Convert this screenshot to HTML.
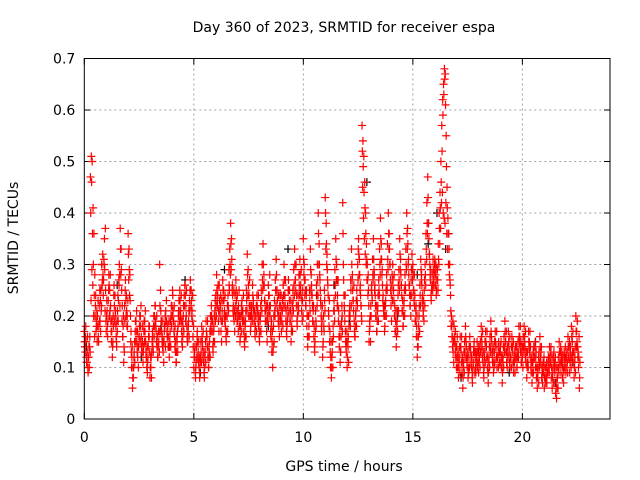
<!DOCTYPE html>
<html><head><meta charset="utf-8"><style>
html,body{margin:0;padding:0;background:#fff}
svg{display:block;font-family:"DejaVu Sans","Liberation Sans",sans-serif}
</style></head><body>
<svg id="chart" width="640" height="480" viewBox="0 0 640 480">
<text x="344" y="32" text-anchor="middle" font-size="14">Day 360 of 2023, SRMTID for receiver espa</text>
<text x="344" y="471" text-anchor="middle" font-size="14">GPS time / hours</text>
<text transform="translate(18,238) rotate(-90)" text-anchor="middle" font-size="14">SRMTID / TECUs</text>
<g id="grid"></g>
<g id="ticks"></g>
<g id="black"></g>
<g id="red"></g>
<rect x="84.3" y="58.5" width="525.7" height="360.5" fill="none" stroke="#000" stroke-width="1"/>
</svg>
<script>
const xTicks=[0,5,10,15,20];
const yTicks=[0,0.1,0.2,0.3,0.4,0.5,0.6,0.7];
const yTickLabels=["0","0.1","0.2","0.3","0.4","0.5","0.6","0.7"];
const redStep=0.04;
const redStarts=[0,0.013,0.027];
const redValues=[
0.17,0.13,0.15,0.11,0.10,0.12,0.14,0.47,0.51,0.50,0.41,0.36,0.28,0.24,0.18,0.20,0.16,0.22,0.19,0.25,0.30,0.32,0.27,0.35,0.37,
0.17,0.21,0.19,0.28,0.25,0.22,0.15,0.12,0.20,0.26,0.24,0.18,0.14,0.21,0.23,0.30,0.37,0.33,0.19,0.16,0.11,0.22,0.27,0.24,0.20,
0.36,0.33,0.28,0.15,0.10,0.06,0.08,0.13,0.17,0.19,0.15,0.12,0.14,0.18,0.20,0.16,0.13,0.11,0.17,0.19,0.15,0.12,0.09,0.14,0.16,
0.08,0.10,0.13,0.16,0.18,0.20,0.22,0.17,0.14,0.12,0.15,0.30,0.25,0.19,0.16,0.13,0.15,0.18,0.21,0.19,0.16,0.14,0.12,0.17,0.20,
0.22,0.24,0.19,0.16,0.13,0.11,0.15,0.18,0.23,0.25,0.21,0.17,0.14,0.20,0.24,0.26,0.22,0.18,0.15,0.19,0.23,0.27,0.25,0.21,0.16,
0.10,0.12,0.08,0.14,0.17,0.13,0.10,0.09,0.15,0.18,0.14,0.11,0.08,0.13,0.19,0.16,0.12,0.10,0.15,0.20,0.22,0.17,0.13,0.18,0.21,
0.24,0.28,0.22,0.19,0.26,0.20,0.17,0.23,0.27,0.25,0.21,0.18,0.15,0.20,0.24,0.29,0.33,0.38,0.35,0.26,0.22,0.19,0.24,0.27,0.21,
0.19,0.22,0.18,0.16,0.20,0.23,0.21,0.17,0.14,0.19,0.25,0.32,0.29,0.24,0.20,0.18,0.22,0.26,0.23,0.19,0.16,0.20,0.24,0.21,0.18,
0.15,0.20,0.25,0.30,0.34,0.28,0.23,0.19,0.17,0.22,0.26,0.24,0.20,0.16,0.13,0.10,0.18,0.23,0.27,0.31,0.25,0.21,0.18,0.22,0.20,
0.17,0.21,0.26,0.30,0.24,0.19,0.16,0.22,0.27,0.23,0.19,0.15,0.20,0.25,0.29,0.33,0.27,0.22,0.18,0.24,0.28,0.31,0.26,0.21,0.23,
0.35,0.30,0.27,0.22,0.18,0.14,0.20,0.25,0.33,0.28,0.24,0.19,0.16,0.13,0.21,0.26,0.30,0.40,0.34,0.27,0.22,0.17,0.12,0.20,0.25,
0.43,0.38,0.32,0.26,0.20,0.15,0.10,0.08,0.13,0.18,0.23,0.29,0.35,0.30,0.24,0.19,0.14,0.11,0.16,0.22,0.42,0.27,0.21,0.17,0.13,
0.10,0.14,0.18,0.22,0.27,0.33,0.28,0.23,0.19,0.16,0.21,0.25,0.30,0.35,0.31,0.26,0.22,0.57,0.54,0.51,0.46,0.40,0.34,0.30,0.28,
0.15,0.18,0.22,0.26,0.31,0.35,0.28,0.24,0.20,0.17,0.22,0.27,0.33,0.39,0.34,0.29,0.24,0.20,0.18,0.23,0.28,0.34,0.40,0.36,0.30,
0.22,0.26,0.30,0.25,0.20,0.17,0.14,0.19,0.24,0.29,0.35,0.31,0.26,0.21,0.18,0.23,0.28,0.33,0.40,0.37,0.31,0.26,0.22,0.27,0.32,
0.30,0.25,0.22,0.19,0.16,0.12,0.14,0.20,0.26,0.31,0.28,0.24,0.21,0.25,0.30,0.36,0.42,0.47,0.38,0.32,0.27,0.23,0.28,0.31,0.26,
0.31,0.28,0.25,0.29,0.34,0.40,0.44,0.50,0.57,0.62,0.65,0.68,0.67,0.55,0.45,0.39,0.36,0.30,0.24,0.20,0.16,0.13,0.18,0.15,0.12,
0.14,0.10,0.08,0.12,0.16,0.13,0.09,0.06,0.11,0.15,0.18,0.14,0.10,0.08,0.12,0.16,0.13,0.10,0.07,0.11,0.15,0.12,0.09,0.13,0.11,
0.09,0.12,0.15,0.18,0.14,0.11,0.08,0.13,0.17,0.14,0.10,0.07,0.12,0.16,0.19,0.15,0.11,0.09,0.13,0.17,0.14,0.10,0.12,0.15,0.11,
0.13,0.10,0.07,0.12,0.16,0.19,0.15,0.11,0.14,0.17,0.13,0.10,0.12,0.16,0.13,0.09,0.11,0.14,0.12,0.10,0.15,0.18,0.16,0.13,0.11,
0.12,0.16,0.18,0.14,0.11,0.08,0.13,0.17,0.15,0.12,0.09,0.07,0.11,0.14,0.12,0.10,0.08,0.06,0.10,0.13,0.16,0.11,0.08,0.07,0.09,
0.06,0.08,0.10,0.07,0.09,0.12,0.14,0.11,0.08,0.06,0.10,0.13,0.09,0.05,0.04,0.08,0.12,0.15,0.11,0.09,0.13,0.10,0.07,0.12,0.14,
0.10,0.13,0.16,0.12,0.09,0.14,0.18,0.15,0.11,0.08,0.12,0.20,0.17,0.14,0.10,0.06];
const redValues2=[
0.15,0.16,0.12,0.13,0.09,0.14,0.16,0.40,0.46,0.36,0.30,0.24,0.20,0.17,0.21,0.18,0.15,0.19,0.23,0.21,0.26,0.28,0.31,0.29,0.25,
0.20,0.18,0.23,0.26,0.21,0.19,0.17,0.14,0.18,0.22,0.20,0.16,0.19,0.24,0.27,0.28,0.33,0.29,0.22,0.18,0.14,0.19,0.23,0.21,0.18,
0.32,0.29,0.23,0.17,0.12,0.08,0.10,0.15,0.19,0.17,0.13,0.14,0.16,0.20,0.18,0.14,0.15,0.13,0.19,0.17,0.13,0.10,0.11,0.16,0.18,
0.10,0.12,0.15,0.14,0.20,0.18,0.19,0.15,0.16,0.14,0.17,0.22,0.21,0.17,0.14,0.15,0.17,0.20,0.19,0.17,0.18,0.16,0.14,0.19,0.22,
0.20,0.21,0.17,0.14,0.15,0.13,0.17,0.20,0.21,0.23,0.19,0.15,0.16,0.22,0.22,0.24,0.20,0.16,0.17,0.21,0.21,0.25,0.23,0.19,0.14,
0.12,0.14,0.10,0.12,0.15,0.11,0.12,0.11,0.13,0.16,0.12,0.13,0.10,0.15,0.17,0.14,0.14,0.12,0.17,0.18,0.20,0.19,0.15,0.20,0.23,
0.22,0.25,0.24,0.21,0.23,0.22,0.19,0.21,0.25,0.23,0.19,0.20,0.17,0.22,0.22,0.26,0.30,0.34,0.31,0.24,0.20,0.21,0.22,0.25,0.19,
0.21,0.20,0.20,0.18,0.22,0.21,0.19,0.19,0.16,0.21,0.23,0.28,0.26,0.22,0.22,0.20,0.20,0.24,0.21,0.21,0.18,0.22,0.22,0.19,0.20,
0.17,0.22,0.23,0.27,0.30,0.26,0.21,0.21,0.19,0.20,0.24,0.22,0.22,0.18,0.15,0.13,0.20,0.21,0.25,0.28,0.23,0.19,0.20,0.24,0.22,
0.19,0.23,0.24,0.27,0.22,0.21,0.18,0.20,0.25,0.25,0.21,0.17,0.22,0.23,0.26,0.30,0.25,0.24,0.20,0.22,0.26,0.28,0.24,0.23,0.25,
0.31,0.27,0.25,0.24,0.20,0.16,0.18,0.23,0.29,0.26,0.22,0.21,0.18,0.15,0.19,0.24,0.27,0.36,0.30,0.25,0.20,0.19,0.14,0.18,0.23,
0.40,0.34,0.29,0.24,0.18,0.17,0.12,0.10,0.15,0.16,0.21,0.26,0.31,0.27,0.22,0.21,0.16,0.13,0.18,0.20,0.36,0.24,0.19,0.15,0.15,
0.12,0.16,0.20,0.20,0.25,0.30,0.25,0.21,0.17,0.18,0.23,0.23,0.27,0.32,0.28,0.24,0.20,0.52,0.49,0.44,0.41,0.36,0.31,0.27,0.25,
0.17,0.20,0.20,0.24,0.28,0.31,0.25,0.22,0.22,0.19,0.24,0.25,0.30,0.35,0.31,0.26,0.22,0.22,0.20,0.25,0.26,0.31,0.36,0.33,0.27,
0.24,0.28,0.27,0.23,0.22,0.19,0.16,0.21,0.26,0.27,0.32,0.28,0.24,0.23,0.20,0.25,0.26,0.30,0.36,0.34,0.28,0.24,0.24,0.29,0.29,
0.28,0.23,0.24,0.21,0.18,0.14,0.16,0.22,0.24,0.29,0.26,0.22,0.23,0.27,0.28,0.33,0.38,0.43,0.35,0.30,0.29,0.25,0.26,0.29,0.28,
0.29,0.30,0.27,0.27,0.31,0.37,0.41,0.46,0.52,0.59,0.63,0.66,0.61,0.49,0.41,0.36,0.33,0.27,0.21,0.18,0.14,0.15,0.16,0.13,0.14,
0.12,0.12,0.10,0.14,0.14,0.11,0.11,0.08,0.13,0.13,0.16,0.12,0.12,0.10,0.14,0.14,0.11,0.12,0.09,0.13,0.13,0.10,0.11,0.15,0.13,
0.11,0.14,0.13,0.16,0.12,0.13,0.10,0.15,0.15,0.12,0.12,0.09,0.14,0.14,0.17,0.13,0.13,0.11,0.15,0.15,0.12,0.12,0.14,0.13,0.13,
0.11,0.12,0.09,0.14,0.14,0.17,0.13,0.13,0.12,0.15,0.11,0.12,0.14,0.14,0.11,0.11,0.13,0.12,0.14,0.12,0.13,0.16,0.14,0.15,0.13,
0.14,0.14,0.16,0.12,0.13,0.10,0.11,0.15,0.13,0.14,0.11,0.09,0.13,0.12,0.14,0.12,0.10,0.08,0.12,0.11,0.14,0.13,0.10,0.09,0.11,
0.08,0.10,0.08,0.09,0.11,0.10,0.12,0.13,0.10,0.08,0.12,0.11,0.11,0.07,0.06,0.10,0.10,0.13,0.13,0.11,0.11,0.12,0.09,0.10,0.12,
0.12,0.11,0.14,0.14,0.11,0.12,0.16,0.13,0.13,0.10,0.14,0.17,0.15,0.12,0.12,0.08];
const redValues3=[
0.14,0.18,0.11,0.16,0.12,0.10,0.13,0.23,0.29,0.26,0.20,0.16,0.22,0.19,0.15,0.23,0.18,0.25,0.17,0.22,0.27,0.24,0.30,0.21,0.19,
0.23,0.16,0.25,0.20,0.28,0.17,0.19,0.15,0.24,0.19,0.21,0.15,0.17,0.19,0.26,0.22,0.28,0.25,0.16,0.20,0.13,0.25,0.20,0.18,0.23,
0.27,0.24,0.20,0.13,0.14,0.10,0.12,0.11,0.15,0.21,0.17,0.10,0.16,0.15,0.22,0.13,0.18,0.14,0.15,0.21,0.12,0.14,0.12,0.18,0.13,
0.12,0.08,0.17,0.13,0.16,0.22,0.18,0.20,0.12,0.17,0.13,0.17,0.19,0.15,0.19,0.11,0.18,0.14,0.23,0.16,0.14,0.19,0.15,0.14,0.18,
0.25,0.19,0.22,0.18,0.11,0.16,0.13,0.21,0.19,0.20,0.24,0.19,0.18,0.17,0.26,0.19,0.25,0.15,0.18,0.16,0.25,0.22,0.20,0.24,0.18,
0.13,0.09,0.11,0.16,0.12,0.15,0.08,0.12,0.11,0.15,0.17,0.09,0.12,0.11,0.16,0.19,0.10,0.13,0.12,0.17,0.19,0.14,0.17,0.15,0.19,
0.20,0.23,0.26,0.17,0.21,0.24,0.15,0.19,0.23,0.20,0.24,0.16,0.20,0.17,0.21,0.25,0.28,0.29,0.25,0.21,0.25,0.17,0.20,0.23,0.24,
0.17,0.25,0.15,0.20,0.17,0.19,0.24,0.15,0.18,0.16,0.21,0.24,0.20,0.27,0.17,0.21,0.19,0.22,0.19,0.17,0.20,0.17,0.21,0.24,0.16,
0.19,0.17,0.21,0.25,0.26,0.23,0.19,0.22,0.15,0.19,0.21,0.28,0.17,0.19,0.17,0.14,0.15,0.20,0.22,0.25,0.21,0.24,0.16,0.19,0.24,
0.21,0.18,0.22,0.24,0.27,0.17,0.19,0.25,0.21,0.19,0.23,0.18,0.17,0.21,0.24,0.27,0.30,0.19,0.22,0.21,0.24,0.25,0.29,0.19,0.20,
0.28,0.24,0.22,0.25,0.16,0.20,0.16,0.21,0.25,0.24,0.19,0.22,0.14,0.17,0.18,0.22,0.24,0.30,0.28,0.23,0.18,0.22,0.15,0.17,0.21,
0.33,0.30,0.27,0.21,0.23,0.13,0.15,0.12,0.10,0.21,0.19,0.24,0.27,0.22,0.27,0.16,0.18,0.13,0.19,0.17,0.30,0.22,0.24,0.14,0.17,
0.15,0.11,0.21,0.18,0.22,0.27,0.23,0.26,0.16,0.20,0.18,0.22,0.33,0.28,0.25,0.22,0.19,0.45,0.39,0.35,0.32,0.30,0.27,0.24,0.22,
0.19,0.15,0.25,0.23,0.27,0.29,0.26,0.20,0.17,0.21,0.19,0.24,0.28,0.31,0.28,0.23,0.21,0.17,0.22,0.20,0.25,0.29,0.33,0.30,0.25,
0.19,0.23,0.25,0.28,0.17,0.21,0.18,0.17,0.21,0.25,0.29,0.26,0.21,0.18,0.22,0.20,0.25,0.29,0.33,0.30,0.26,0.22,0.20,0.24,0.27,
0.25,0.28,0.19,0.22,0.20,0.16,0.18,0.17,0.22,0.27,0.23,0.20,0.19,0.22,0.26,0.31,0.36,0.38,0.32,0.28,0.24,0.26,0.25,0.27,0.30,
0.26,0.24,0.29,0.25,0.30,0.34,0.37,0.42,0.44,0.40,0.39,0.38,0.42,0.36,0.33,0.30,0.28,0.26,0.18,0.16,0.19,0.11,0.15,0.17,0.10,
0.16,0.13,0.11,0.09,0.14,0.16,0.12,0.10,0.09,0.12,0.15,0.11,0.13,0.09,0.10,0.14,0.12,0.08,0.10,0.14,0.09,0.13,0.12,0.10,0.14,
0.12,0.10,0.13,0.15,0.17,0.09,0.12,0.11,0.14,0.17,0.09,0.11,0.10,0.13,0.16,0.12,0.14,0.10,0.11,0.14,0.17,0.12,0.10,0.13,0.14,
0.15,0.12,0.11,0.10,0.13,0.15,0.17,0.10,0.12,0.14,0.16,0.12,0.10,0.14,0.15,0.12,0.09,0.12,0.10,0.13,0.12,0.15,0.18,0.11,0.14,
0.10,0.13,0.15,0.17,0.13,0.11,0.10,0.14,0.17,0.10,0.12,0.11,0.09,0.12,0.15,0.13,0.10,0.09,0.07,0.10,0.12,0.14,0.09,0.11,0.12,
0.10,0.07,0.11,0.09,0.12,0.09,0.11,0.14,0.12,0.09,0.07,0.10,0.12,0.10,0.08,0.06,0.09,0.11,0.14,0.12,0.08,0.10,0.13,0.11,0.09,
0.13,0.09,0.12,0.15,0.13,0.10,0.12,0.17,0.13,0.11,0.09,0.14,0.19,0.13,0.16,0.11];
const blackTimes=[0.1,0.8,1.5,2.6,3.5,4.6,5.3,6.4,7.2,8.4,9.3,10.6,11.4,12.1,12.9,13.7,14.3,15.2,15.7,16.1,16.5,17.2,18.0,19.4,20.6,21.5,22.3];
const blackValues=[0.14,0.30,0.26,0.12,0.18,0.27,0.09,0.29,0.21,0.18,0.33,0.24,0.26,0.19,0.46,0.22,0.20,0.28,0.34,0.40,0.33,0.08,0.13,0.09,0.15,0.07,0.11];

const X0=84.3,X1=610,Y0=419,Y1=58.5,XMAX=24,YMAX=0.7;
const xs=t=>X0+(X1-X0)*t/XMAX;
const ys=v=>Y0-(Y0-Y1)*v/YMAX;
const NS='http://www.w3.org/2000/svg';
function mk(tag,attrs,parent){const e=document.createElementNS(NS,tag);for(const k in attrs)e.setAttribute(k,attrs[k]);parent.appendChild(e);return e;}
const grid=document.getElementById('grid'),ticks=document.getElementById('ticks');
xTicks.forEach(t=>{
  const x=xs(t);
  if(t>0){const g=mk('line',{x1:x,x2:x,y1:Y1,y2:Y0,stroke:'#a0a0a0','stroke-dasharray':'2,3'},grid);
  
  }
  mk('line',{x1:x,x2:x,y1:Y0,y2:Y0-6,stroke:'#000'},ticks);
  mk('line',{x1:x,x2:x,y1:Y1,y2:Y1+6,stroke:'#000'},ticks);
  const l=mk('text',{x:x,y:Y0+23,'text-anchor':'middle','font-size':14},ticks);
  l.textContent=String(t);
  
  
});
yTicks.forEach((v,i)=>{
  const y=ys(v);
  if(v>0&&v<YMAX){const g=mk('line',{x1:X0,x2:X1,y1:y,y2:y,stroke:'#a0a0a0','stroke-dasharray':'2,3'},grid);
  
  }
  mk('line',{x1:X0,x2:X0+6,y1:y,y2:y,stroke:'#000'},ticks);
  mk('line',{x1:X1,x2:X1-6,y1:y,y2:y,stroke:'#000'},ticks);
  const l=mk('text',{x:X0-9,y:y+5,'text-anchor':'end','font-size':14},ticks);
  l.textContent=yTickLabels[i];
  
  
});
function plus(x,y,color,parent){
  const p=mk('path',{d:`M${x-4},${y}h8M${x},${y-4}v8`,stroke:color,'stroke-width':1.2,fill:'none'},parent);
  
  
}
const bg=document.getElementById('black');
blackTimes.forEach((t,i)=>plus(xs(t),ys(blackValues[i]),'#000',bg));
const rg=document.getElementById('red');
[redValues,redValues2,redValues3].forEach((arr,k)=>{
  arr.forEach((v,i)=>plus(xs(redStarts[k]+i*redStep),ys(v),'#ff0000',rg));
});
</script>
</body></html>
